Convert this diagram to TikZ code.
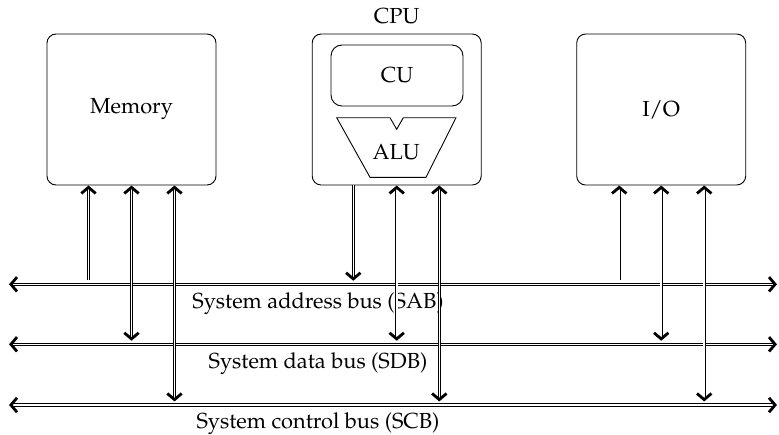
\documentclass[tikz,border=0pt]{standalone}
\usepackage[T1]{fontenc}
\usepackage{mathpazo}
\usetikzlibrary{calc}
% chevron tip at #2, for a shaft coming from #1
\newcommand\tipp[2]{\draw[chev] ($(#2)!8pt!(#1)!7.2pt!90:(#2)$) -- ($(#2)!1.9pt!(#1)$) -- ($(#2)!8pt!(#1)!7.2pt!-90:(#2)$);}
\begin{document}
\begin{tikzpicture}[x=1pt,y=-1pt,
  font=\fontsize{21.8}{26}\selectfont,
  chev/.style={line width=2.8pt,line join=miter,line cap=butt},
  box/.style={draw,line width=0.9pt,rounded corners=9pt,minimum width=169pt,minimum height=151pt,inner sep=0pt},
  cubox/.style={draw,line width=0.9pt,rounded corners=11pt,minimum width=132pt,minimum height=61pt,inner sep=0pt},
  shaft/.style={double,double distance=1.6pt,line width=0.9pt},
  lbl/.style={anchor=base,inner sep=0pt}
]
\useasboundingbox (0,0) rectangle (779,434);
% units
\node[box] (mem) at (131.5,109.5) {Memory};
\node[box] (cpu) at (396.7,109.5) {};
\node[lbl] (cpulbl) at (396.7,23.3) {CPU};
\node[box] (io) at (661.2,109.5) {I/O};
\node[cubox] (cu) at (397,75.5) {CU};
\node[lbl] (alu) at (396.2,159.3) {ALU};
\draw[line width=0.9pt] (336.7,117.7) -- (390,117.7) -- (396.7,129.3) -- (403.3,117.7) -- (456,117.7) -- (426,177.3) -- (370,177.3) -- cycle;
% buses
\coordinate (sabL) at (9,284.3);  \coordinate (sabR) at (777,284.3);
\coordinate (sdbL) at (9,344.3);  \coordinate (sdbR) at (777,344.3);
\coordinate (scbL) at (9,405);    \coordinate (scbR) at (777,405);
\draw[shaft,shorten <=3pt,shorten >=3pt] (sabL) -- (sabR); \tipp{sabR}{sabL}\tipp{sabL}{sabR}
\draw[shaft,shorten <=3pt,shorten >=3pt] (sdbL) -- (sdbR); \tipp{sdbR}{sdbL}\tipp{sdbL}{sdbR}
\draw[shaft,shorten <=3pt,shorten >=3pt] (scbL) -- (scbR); \tipp{scbR}{scbL}\tipp{scbL}{scbR}
\node[lbl] (sabt) at (318,308) {System address bus (SAB)};
\node[lbl] (sdbt) at (318,368.3) {System data bus (SDB)};
\node[lbl] (scbt) at (318,428.3) {System control bus (SCB)};
% connection points
\coordinate (m1) at ($(mem.south)+(-43,0)$);
\coordinate (m2) at (mem.south);
\coordinate (m3) at ($(mem.south)+(43,0)$);
\coordinate (c1) at ($(cpu.south)+(-43.4,0)$);
\coordinate (c2) at (cpu.south);
\coordinate (c3) at ($(cpu.south)+(42.6,0)$);
\coordinate (i1) at ($(io.south)+(-42,0)$);
\coordinate (i2) at (io.south);
\coordinate (i3) at ($(io.south)+(43,0)$);
\coordinate (m1b) at ($(sabL -| m1)+(0,-4.5)$);
\coordinate (m2b) at ($(sdbL -| m2)+(0,-3.5)$);
\coordinate (m3b) at ($(scbL -| m3)+(0,-3.5)$);
\coordinate (c1b) at ($(sabL -| c1)+(0,-3.5)$);
\coordinate (c2b) at ($(sdbL -| c2)+(0,-3.5)$);
\coordinate (c3b) at ($(scbL -| c3)+(0,-3.5)$);
\coordinate (i1b) at ($(sabL -| i1)+(0,-4.5)$);
\coordinate (i2b) at ($(sdbL -| i2)+(0,-3.5)$);
\coordinate (i3b) at ($(scbL -| i3)+(0,-3.5)$);
% memory links
\draw[shaft,shorten >=3pt] (m1b) -- (m1); \tipp{m1b}{m1}
\draw[shaft,shorten <=3pt,shorten >=3pt] (m2) -- (m2b); \tipp{m2b}{m2}\tipp{m2}{m2b}
\draw[shaft,shorten <=3pt,shorten >=3pt] (m3) -- (m3b); \tipp{m3b}{m3}\tipp{m3}{m3b}
% cpu links
\draw[shaft,shorten >=3pt] (c1) -- (c1b); \tipp{c1}{c1b}
\draw[shaft,shorten <=3pt,shorten >=3pt] (c2) -- (c2b); \tipp{c2b}{c2}\tipp{c2}{c2b}
\draw[shaft,shorten <=3pt,shorten >=3pt] (c3) -- (c3b); \tipp{c3b}{c3}\tipp{c3}{c3b}
% io links
\draw[shaft,shorten >=3pt] (i1b) -- (i1); \tipp{i1b}{i1}
\draw[shaft,shorten <=3pt,shorten >=3pt] (i2) -- (i2b); \tipp{i2b}{i2}\tipp{i2}{i2b}
\draw[shaft,shorten <=3pt,shorten >=3pt] (i3) -- (i3b); \tipp{i3b}{i3}\tipp{i3}{i3b}
\end{tikzpicture}
\end{document}
